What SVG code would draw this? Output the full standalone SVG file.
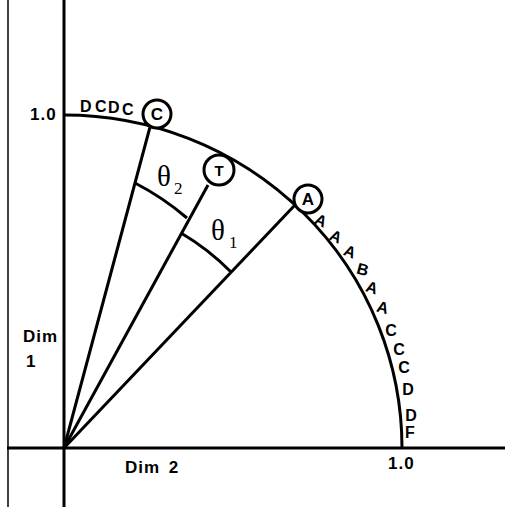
<svg xmlns="http://www.w3.org/2000/svg" width="505" height="507" viewBox="0 0 505 507">
<style>
.ln{stroke:#000;stroke-width:3;fill:none;stroke-linecap:butt}
.thin{stroke:#000;stroke-width:1.5;fill:none}
.t{font-family:"Liberation Sans",Arial,sans-serif;font-weight:bold;fill:#000}
.nd{fill:#fff;stroke:#000;stroke-width:3}
.g{font-family:"Liberation Serif","Times New Roman",serif;fill:#000}
</style>
<rect width="505" height="507" fill="#fff"/>
<line class="thin" x1="8" y1="0" x2="8" y2="507"/>
<g id="axes">
<line class="ln" x1="64" y1="0" x2="64" y2="507"/>
<line class="ln" x1="7" y1="448" x2="505" y2="448"/>
<path class="ln" d="M64 115 A338 333 0 0 1 402 448"/>
</g>
<g id="connectors">
<line class="ln" x1="64" y1="448" x2="150" y2="127"/>
<line class="ln" x1="64" y1="448" x2="208" y2="185"/>
<line class="ln" x1="64" y1="448" x2="295" y2="205"/>
<path class="ln" d="M135 183 A270 270 0 0 1 187 218"/>
<path class="ln" d="M181 233 A244 244 0 0 1 231 272"/>
</g>
<g id="labels">
<text class="t" x="30" y="120" font-size="17" letter-spacing="1">1.0</text>
<text class="t" x="23" y="342" font-size="17" letter-spacing="1">Dim</text>
<text class="t" x="26" y="367" font-size="17">1</text>
<text class="t" x="125" y="473" font-size="17" letter-spacing="1" word-spacing="3">Dim 2</text>
<text class="t" x="388" y="469" font-size="17" letter-spacing="1">1.0</text>
<text class="g" x="157" y="186" font-size="29">θ</text>
<text class="g" x="174" y="194" font-size="17">2</text>
<text class="g" x="211" y="240" font-size="29">θ</text>
<text class="g" x="229" y="248" font-size="17">1</text>
</g>
<g id="arc-letters" class="t" font-size="16">
<text x="80" y="112">D</text>
<text x="95" y="112">C</text>
<text x="108" y="113">D</text>
<text x="122" y="115">C</text>
<text x="321" y="226" transform="rotate(25 321 220)" text-anchor="middle">A</text>
<text x="336" y="242" transform="rotate(25 336 236)" text-anchor="middle">A</text>
<text x="350" y="257" transform="rotate(22 350 251)" text-anchor="middle">A</text>
<text x="363" y="275" transform="rotate(15 363 269)" text-anchor="middle">B</text>
<text x="372" y="293" transform="rotate(18 372 287)" text-anchor="middle">A</text>
<text x="383" y="313" transform="rotate(15 383 307)" text-anchor="middle">A</text>
<text x="391" y="336" text-anchor="middle">C</text>
<text x="399" y="355" text-anchor="middle">C</text>
<text x="404" y="373" text-anchor="middle">C</text>
<text x="408" y="395" text-anchor="middle">D</text>
<text x="411" y="421" text-anchor="middle">D</text>
<text x="410" y="438" text-anchor="middle">F</text>
</g>
<g id="node-C">
<circle class="nd" cx="157" cy="114" r="14"/>
<text class="t" x="157" y="120" font-size="17" text-anchor="middle">C</text>
</g>
<g id="node-T">
<circle class="nd" cx="219" cy="170" r="15"/>
<text class="t" x="219" y="176" font-size="15" text-anchor="middle">T</text>
</g>
<g id="node-A">
<circle class="nd" cx="308" cy="199" r="14"/>
<text class="t" x="308" y="205" font-size="17" text-anchor="middle">A</text>
</g>
</svg>
